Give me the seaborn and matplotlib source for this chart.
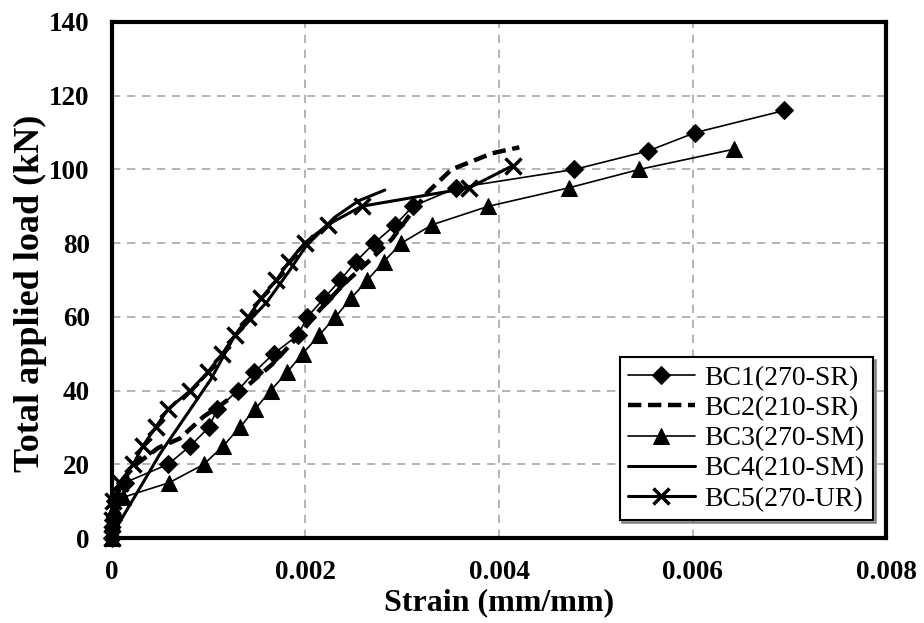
import pandas as pd
import matplotlib.pyplot as plt
import seaborn as sns
from matplotlib.ticker import FuncFormatter

# Dados (deformacao x carga)
strain_bc1 = [0, 0.00001, 0.00003, 0.00013, 0.00058, 0.00081, 0.00100, 0.00109, 0.00130, 0.00147,
              0.00167, 0.00192, 0.00202, 0.00219, 0.00236, 0.00252, 0.00271, 0.00293, 0.00311,
              0.00356, 0.00478, 0.00554, 0.00603, 0.00695]
load_bc1 = [0, 5, 10, 15, 20, 25, 30, 35, 40, 45, 50, 55, 60, 65, 70, 75, 80, 85, 90, 95, 100,
            105, 110, 116]

strain_bc2 = [0, 0.00002, 0.00008, 0.00025, 0.00048, 0.00070, 0.00095, 0.00112, 0.00143, 0.00165,
              0.00190, 0.00215, 0.00240, 0.00265, 0.00289, 0.00306, 0.00327, 0.00351, 0.00393, 0.00421]
load_bc2 = [0, 8, 15, 20, 24.5, 27, 33, 36, 42, 47, 54, 62, 69, 75, 81, 87, 94, 100, 104.4, 106]

strain_bc3 = [0, 0, 0.00002, 0.00011, 0.00059, 0.00095, 0.00115, 0.00132, 0.00148, 0.00164,
              0.00181, 0.00197, 0.00214, 0.00231, 0.00247, 0.00264, 0.00281, 0.00299, 0.00331,
              0.00389, 0.00472, 0.00545, 0.00643]
load_bc3 = [0, 4, 8, 11, 15, 20, 25, 30, 35, 40, 45, 50, 55, 60, 65, 70, 75, 80, 85, 90, 95,
            100, 105.5]

strain_bc4 = [0, 0.00005, 0.0005, 0.00102, 0.00126, 0.0016, 0.00182, 0.0020, 0.00215, 0.0023,
              0.00255, 0.00282]
load_bc4 = [0, 3, 23, 43, 54.5, 64, 72, 79, 83, 87, 91.5, 94.4]

strain_bc5 = [0, 0, 0.00001, 0.00008, 0.00022, 0.00032, 0.00045, 0.00058, 0.00081, 0.00099,
              0.00114, 0.00127, 0.00141, 0.00154, 0.00170, 0.00183, 0.00199, 0.00223, 0.00258,
              0.00369, 0.00414]
load_bc5 = [0, 5, 10, 15, 20, 25, 30, 35, 40, 45, 50, 55, 60, 65, 70, 75, 80, 85, 90, 95, 101]

x_ticks = [0, 0.002, 0.004, 0.006, 0.008]
y_ticks = [0, 20, 40, 60, 80, 100, 120, 140]

sns.set_style("white")
plt.rcParams['font.family'] = ['Liberation Serif', 'DejaVu Serif']
plt.rcParams['text.color'] = 'black'
plt.rcParams['axes.labelcolor'] = 'black'

fig = plt.figure(figsize=(9.24, 6.23), dpi=100)
ax = fig.add_axes([0.1212, 0.1364, 0.8377, 0.8283])

# Series
sns.lineplot(x=strain_bc1, y=load_bc1, ax=ax, sort=False, estimator=None, color='black',
             linewidth=1.2, marker='D', markersize=9, markeredgecolor='black',
             label='BC1(270-SR)', clip_on=False)
sns.lineplot(x=strain_bc2, y=load_bc2, ax=ax, sort=False, estimator=None, color='black',
             linewidth=3.2, dashes=(3, 1.5), label='BC2(210-SR)', clip_on=False)
sns.lineplot(x=strain_bc3, y=load_bc3, ax=ax, sort=False, estimator=None, color='black',
             linewidth=1.2, marker='^', markersize=12, markeredgecolor='black',
             label='BC3(270-SM)', clip_on=False)
sns.lineplot(x=strain_bc4, y=load_bc4, ax=ax, sort=False, estimator=None, color='black',
             linewidth=2.2, label='BC4(210-SM)', clip_on=False)
sns.lineplot(x=strain_bc5, y=load_bc5, ax=ax, sort=False, estimator=None, color='black',
             linewidth=2.2, marker='x', markersize=12, markeredgewidth=2.5,
             markeredgecolor='black', label='BC5(270-UR)', clip_on=False)

# Eixos
ax.set_xlim(0, 0.008)
ax.set_ylim(0, 140)
ax.set_xticks(x_ticks)
ax.set_yticks(y_ticks)
ax.xaxis.set_major_formatter(FuncFormatter(lambda v, p: '0' if v == 0 else f'{v:.3f}'))
ax.grid(True, color='#a8a8a8', linestyle=(0, (5, 4)), linewidth=1.2)
ax.set_axisbelow(True)
for s in ax.spines.values():
    s.set_linewidth(3)
    s.set_color('black')
ax.tick_params(direction='inout', length=12, width=2.5, colors='black',
               labelsize=19.5, pad=10)
for lab in ax.get_xticklabels() + ax.get_yticklabels():
    lab.set_fontweight('bold')

ax.set_xlabel('Strain (mm/mm)', fontsize=23, fontweight='bold', labelpad=2)
ax.set_ylabel('Total applied load (kN)', fontsize=26, fontweight='bold')
ax.yaxis.set_label_coords(-0.084, 0.475)

# Legenda
leg = ax.legend(loc='lower right', bbox_to_anchor=(0.983, 0.035), borderaxespad=0,
                fontsize=20, frameon=True, fancybox=False, shadow=True,
                edgecolor='black', framealpha=1, handlelength=2.4, handletextpad=0.35,
                labelspacing=0.17, borderpad=0.3)
leg.get_frame().set_linewidth(1.5)

plt.savefig('out.png', dpi=100)
